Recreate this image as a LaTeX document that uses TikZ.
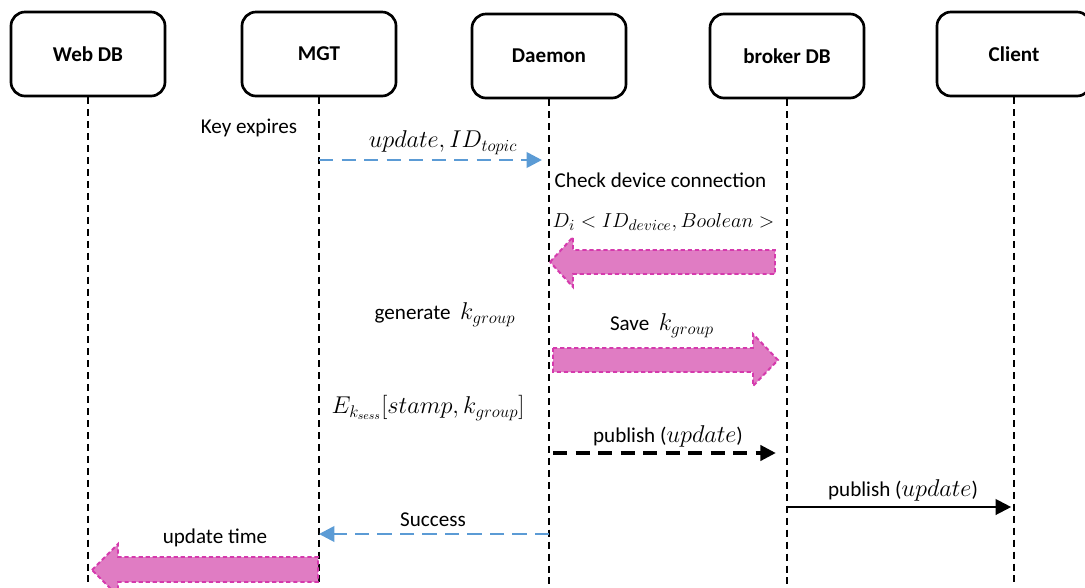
\documentclass[tikz,border=0pt]{standalone}
\usepackage{fontspec}
\setmainfont{Carlito}
\usepackage{amsmath}
\usetikzlibrary{arrows.meta,positioning,calc}
\definecolor{msgblue}{HTML}{5B9BD5}
\definecolor{pinkfill}{HTML}{E07CC3}
\definecolor{pinkedge}{HTML}{D53AAD}

\tikzset{
  entity/.style={draw, line width=1.9pt, rounded corners=10pt, minimum width=3.85cm,
    minimum height=2.1cm, font=\fontsize{15}{18}\selectfont\bfseries},
  lifeline/.style={line width=1.5pt, dash pattern=on 5pt off 3.5pt},
  lbl/.style={font=\fontsize{15}{18}\selectfont, inner sep=1pt},
  mathlbl/.style={font=\fontsize{17}{20}\selectfont, inner sep=1pt},
  bluemsg/.style={draw=msgblue, line width=2pt, dash pattern=on 10pt off 6pt,
    -{Triangle[length=11pt,width=11pt]}},
  blackmsg/.style={line width=2pt, -{Triangle[length=11pt,width=11pt]}},
  fatarrow/.style={draw=pinkedge, fill=pinkfill, line width=1.4pt, dash pattern=on 3pt off 2pt}
}

\begin{document}
\begin{tikzpicture}[x=0.025cm, y=-0.025cm]
    \useasboundingbox (0,0) rectangle (1085,587);
    \coordinate (bottom) at (0,587);

    % participants
    \node[entity] (webdb)  at (88,54)   {Web DB};
    \node[entity] (mgt)    at (319,54)  {MGT};
    \node[entity] (daemon) at (549,56)  {Daemon};
    \node[entity] (broker) at (787,56)  {broker DB};
    \node[entity] (client) at (1014,54) {Client};

    % lifelines
    \foreach \who in {webdb,mgt,daemon,broker,client}
        \draw[lifeline] (\who.south) -- (\who.south |- bottom);

    % key expiry
    \node[lbl] (keyexp) at (249,128) {Key expires};
    \draw[bluemsg, shorten >=5pt] (mgt |- 0,160) -- (daemon |- 0,160);
    \node[mathlbl] (updtopic) at (443,143) {$update,ID_{topic}$};

    % device connection check
    \node[lbl, anchor=west] (checkdev) at (553,180) {Check device connection};
    \node[mathlbl, font=\fontsize{15.5}{18}\selectfont, anchor=west] (devlist) at (551,222) {$D_i<ID_{device},Boolean>$};
    \draw[fatarrow] ($(daemon |- 0,262)+(1,0)$) -- ($(daemon |- 0,237)+(24,0)$)
        -- ($(daemon |- 0,250)+(24,0)$) -- ($(broker |- 0,250)+(-12,0)$)
        -- ($(broker |- 0,274)+(-12,0)$) -- ($(daemon |- 0,274)+(24,0)$)
        -- ($(daemon |- 0,287)+(24,0)$) -- cycle;

    % group key
    \node[lbl] (genkey) at (445,315) {generate\ \ {\fontsize{17}{20}\selectfont$k_{group}$}};
    \node[lbl] (savekey) at (662,326) {Save\ \ {\fontsize{17}{20}\selectfont$k_{group}$}};
    \draw[fatarrow] ($(daemon |- 0,348)+(4,0)$) -- ($(broker |- 0,348)+(-34,0)$)
        -- ($(broker |- 0,334)+(-34,0)$) -- ($(broker |- 0,360)+(-9,0)$)
        -- ($(broker |- 0,386)+(-34,0)$) -- ($(broker |- 0,372)+(-34,0)$)
        -- ($(daemon |- 0,372)+(4,0)$) -- cycle;
    \node[mathlbl, anchor=west] (enckey) at (330,408) {$E_{k_{sess}}[stamp,k_{group}]$};

    % publishing
    \node[lbl] (pub1) at (668,436) {publish ({\fontsize{17}{20}\selectfont$update$})};
    \draw[blackmsg, line width=2.2pt, dash pattern=on 10pt off 6pt, shorten >=8pt] ($(daemon |- 0,453)+(4,0)$) -- (broker |- 0,453);
    \node[lbl] (pub2) at (903,490) {publish ({\fontsize{17}{20}\selectfont$update$})};
    \draw[blackmsg, line width=1.5pt, shorten >=2pt] (broker |- 0,507) -- (client |- 0,507);

    % acknowledgement
    \node[lbl] (success) at (433,520) {Success};
    \draw[bluemsg] (daemon |- 0,534) -- (mgt |- 0,534);
    \node[lbl] (updtime) at (215,538) {update time};
    \draw[fatarrow] ($(webdb |- 0,570)+(4,0)$) -- ($(webdb |- 0,544)+(30,0)$)
        -- ($(webdb |- 0,557)+(30,0)$) -- ($(mgt |- 0,557)+(-1,0)$)
        -- ($(mgt |- 0,582)+(-1,0)$) -- ($(webdb |- 0,582)+(30,0)$)
        -- ($(webdb |- 0,596)+(30,0)$) -- cycle;
\end{tikzpicture}
\end{document}
